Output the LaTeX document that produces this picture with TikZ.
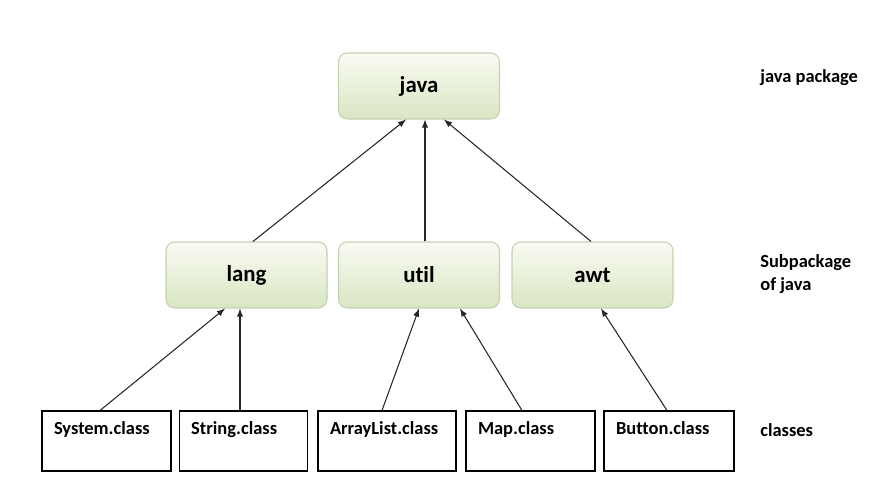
\documentclass[tikz,border=0pt]{standalone}
\usepackage{fontspec}
\setmainfont{Carlito}[Ligatures=NoCommon]
\usepackage{xcolor}
\usepackage{tikz}
\definecolor{boxtop}{HTML}{FAFBF3}
\definecolor{boxbot}{HTML}{D9E6C2}
\definecolor{boxline}{HTML}{C5D0B2}
\definecolor{arrowcol}{HTML}{262626}

\tikzset{
	pkg/.style={rounded corners=5pt, draw=boxline, line width=0.6pt, top color=boxtop, bottom color=boxbot,
		minimum width=3.22cm, minimum height=1.32cm, font=\fontsize{13}{15}\selectfont\bfseries},
	cls/.style={draw=black, line width=0.6pt, inner xsep=0.24cm, inner ysep=0pt, align=left,
		text height=0.48cm, text depth=0.72cm, font=\fontsize{10.5}{12}\selectfont\bfseries},
	note/.style={anchor=west, align=left, inner sep=0pt, font=\fontsize{10.5}{13}\selectfont\bfseries},
	conn/.style={-latex, draw=arrowcol, line width=0.6pt}
}

\begin{document}
\begin{tikzpicture}
		\useasboundingbox (0, 0) rectangle (17.48, 9.64);
		
		% packages
		\node[pkg] (java) at (8.38, 7.92) {java};
		\node[pkg] (lang) at (4.93, 4.14) {lang};
		\node[pkg] (util) at (8.38, 4.14) {util};
		\node[pkg] (awt) at (11.85, 4.14) {awt};
		
		% classes
		\foreach \name/\x/\w/\txt in {sys/2.13/2.10/System.class, str/4.87/2.09/String.class,
			alist/7.74/2.28/ArrayList.class, map/10.61/2.10/Map.class, btn/13.38/2.12/Button.class} {
			\node[cls, text width=\w cm] (\name) at (\x, 0.82) {\txt};
		}
		
		% right hand notes
		\node[note] (lbjava) at (15.2, 8.08) {java package};
		\node[note] (lbsub) at (15.2, 4.16) {Subpackage\\of java};
		\node[note] (lbcls) at (15.2, 1.04) {classes};
		
		\foreach \s/\ds/\t/\dt in {lang/0.13/java/-0.26, util/0.12/java/0.12, awt/-0.03/java/0.5,
			sys/-0.13/lang/-0.43, str/-0.07/lang/-0.13, alist/-0.1/util/0, map/-0.17/util/0.82, btn/-0.04/awt/0.17} {
			\draw[conn] ([xshift=\ds cm]\s.north) -- ([xshift=\dt cm]\t.south);
		}
	
	\end{tikzpicture}
\end{document}
